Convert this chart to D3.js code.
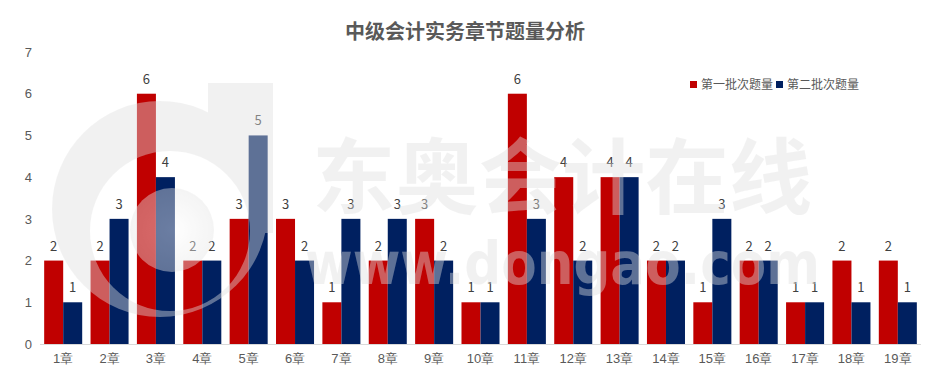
<!DOCTYPE html>
<html>
<head>
<meta charset="utf-8">
<script src="https://cdn.jsdelivr.net/npm/d3@7"></script>
<style>
	body { margin: 0; background: #fff; }
	svg { font-family: "Microsoft YaHei", "Noto Sans CJK SC", sans-serif; }
	.tick text { fill: #595959; font-size: 13px; }
	.barLabel { fill: #404040; font-size: 13px; }
	.legendText { fill: #595959; font-size: 12px; }
</style>
</head>
<body>
<svg id="chart" width="940" height="380"></svg>
<script>
// chapters and question counts
var chapters = ['1章','2章','3章','4章','5章','6章','7章','8章','9章','10章','11章','12章','13章','14章','15章','16章','17章','18章','19章'];
var firstBatch  = [2,2,6,2,3,3,1,2,3,1,6,4,4,2,1,2,1,2,2];
var secondBatch = [1,3,4,2,5,2,3,3,2,1,3,2,4,2,3,2,1,1,1];
var seriesNames = ['第一批次题量','第二批次题量'];
var yTicks = [0,1,2,3,4,5,6,7];

document.addEventListener("DOMContentLoaded", function() {

	var svg = d3.select('#chart');
	var colors = ['#C00000', '#002060'];

	var x = d3.scaleBand()
		.domain(chapters)
		.range([40, 921])
		.paddingInner(0.18)
		.paddingOuter(0.09);

	var xSeries = d3.scaleBand()
		.domain([0, 1])
		.range([0, x.bandwidth()]);

	var y = d3.scaleLinear()
		.domain([0, 7])
		.range([344, 52]);

	// title
	svg.append('text')
		.attr('x', 465)
		.attr('y', 39)
		.attr('text-anchor', 'middle')
		.style('font-size', '20px')
		.style('font-weight', 'bold')
		.style('fill', '#595959')
		.text('中级会计实务章节题量分析');

	// y axis labels only
	var yAxis = svg.append('g')
		.attr('transform', 'translate(40,0)')
		.call(d3.axisLeft(y).tickValues(yTicks).tickFormat(d3.format('d')).tickSize(0).tickPadding(8));
	yAxis.select('.domain').remove();

	// rows of data
	var rows = chapters.map(function(c, i) {
		return {chapter: c, values: [firstBatch[i], secondBatch[i]]};
	});

	var groups = svg.append('g').selectAll('g')
		.data(rows)
		.enter()
		.append('g')
		.attr('transform', d => 'translate(' + x(d.chapter) + ',0)');

	groups.selectAll('rect')
		.data(d => d.values)
		.enter()
		.append('rect')
		.attr('x', (d, i) => xSeries(i))
		.attr('width', xSeries.bandwidth())
		.attr('y', d => y(d))
		.attr('height', d => y(0) - y(d))
		.attr('fill', (d, i) => colors[i]);

	groups.selectAll('text.barLabel')
		.data(d => d.values)
		.enter()
		.append('text')
		.attr('class', 'barLabel')
		.attr('x', (d, i) => xSeries(i) + xSeries.bandwidth() / 2)
		.attr('y', d => y(d) - 10)
		.attr('text-anchor', 'middle')
		.text(d => d);

	// x axis
	var xAxis = svg.append('g')
		.attr('transform', 'translate(0,' + y(0) + ')')
		.call(d3.axisBottom(x).tickSize(0).tickPadding(10));
	xAxis.select('.domain').attr('stroke', '#d9d9d9').attr('d', 'M40,0.5H921');

	// legend
	var legendX = [690, 776];
	var legend = svg.append('g').selectAll('g')
		.data(seriesNames)
		.enter()
		.append('g')
		.attr('transform', (d, i) => 'translate(' + legendX[i] + ',80)');
	legend.append('rect')
		.attr('width', 7)
		.attr('height', 7)
		.attr('y', 1)
		.attr('fill', (d, i) => colors[i]);
	legend.append('text')
		.attr('class', 'legendText')
		.attr('x', 11)
		.attr('y', 9)
		.text(d => d);

	// watermark overlay
	var defs = svg.append('defs');
	var mask = defs.append('mask').attr('id', 'logoMask');
	mask.append('rect').attr('width', 940).attr('height', 380).attr('fill', 'black');
	mask.append('circle').attr('cx', 160).attr('cy', 209).attr('r', 108).attr('fill', 'white');
	mask.append('rect').attr('x', 208).attr('y', 83).attr('width', 65).attr('height', 150).attr('fill', 'white');
	mask.append('circle').attr('cx', 170).attr('cy', 231).attr('r', 80).attr('fill', 'black');

	var grad = defs.append('radialGradient').attr('id', 'dotGrad');
	grad.append('stop').attr('offset', '0%').attr('stop-color', '#ffffff');
	grad.append('stop').attr('offset', '100%').attr('stop-color', '#e6e6e6');

	var mark = svg.append('g').attr('opacity', 0.42).style('pointer-events', 'none');
	mark.append('rect')
		.attr('width', 940)
		.attr('height', 380)
		.attr('fill', '#e0e0e0')
		.attr('mask', 'url(#logoMask)');
	mark.append('circle')
		.attr('cx', 172)
		.attr('cy', 230)
		.attr('r', 42)
		.attr('fill', 'url(#dotGrad)');
	mark.append('text')
		.attr('x', 312)
		.attr('y', 207)
		.attr('textLength', 500)
		.attr('lengthAdjust', 'spacingAndGlyphs')
		.style('font-size', '82px')
		.style('font-weight', 'bold')
		.style('fill', '#e0e0e0')
		.text('东奥会计在线');
	mark.append('text')
		.attr('x', 305)
		.attr('y', 284)
		.attr('textLength', 515)
		.attr('lengthAdjust', 'spacingAndGlyphs')
		.style('font-family', '"DejaVu Sans", sans-serif')
		.style('font-size', '58px')
		.style('font-weight', 'bold')
		.style('fill', '#e0e0e0')
		.text('www.dongao.com');
});
</script>
</body>
</html>
